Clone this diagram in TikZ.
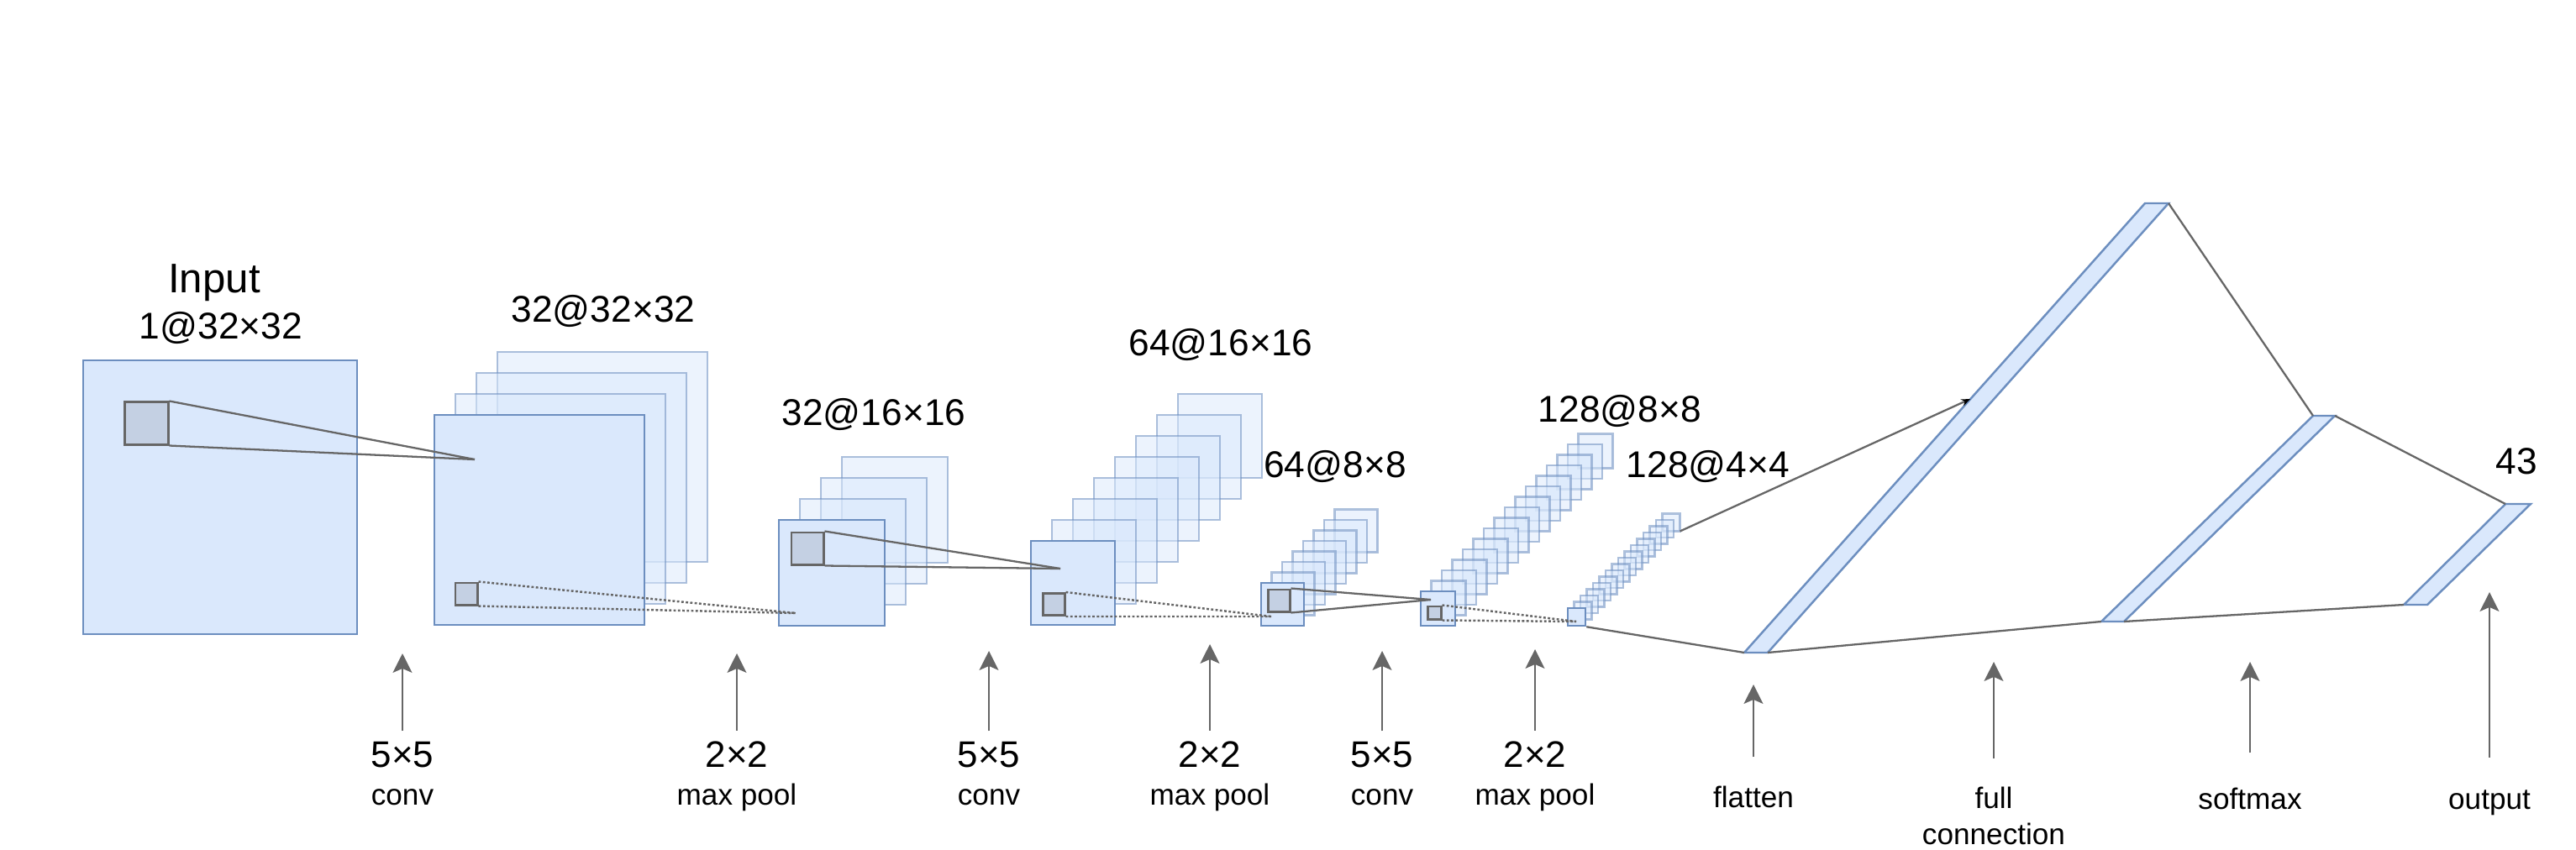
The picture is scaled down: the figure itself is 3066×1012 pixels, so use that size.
\documentclass[tikz,border=0pt]{standalone}
\usepackage{fontspec}
\setmainfont{Liberation Sans}
\usepackage{tikz}
\usetikzlibrary{arrows.meta}
\definecolor{mapfill}{RGB}{218,232,252}
\definecolor{mapline}{RGB}{108,142,191}
\definecolor{kernfill}{RGB}{196,208,227}
\definecolor{mygray}{RGB}{102,102,102}
\tikzset{
  fmap/.style={rectangle, draw=mapline, fill=mapfill, line width=0.7pt, inner sep=0pt},
  backmap/.style={draw=mapline, fill=mapfill, line width=0.7pt,
    draw opacity=0.55, fill opacity=0.5},
  kern/.style={rectangle, draw=mygray, fill=kernfill, line width=0.85pt, inner sep=0pt},
  link/.style={line width=0.65pt, color=mygray},
  dotlink/.style={line width=0.7pt, color=mygray, dash pattern=on 0.8pt off 0.7pt},
  bar/.style={draw=mapline, fill=mapfill, line width=0.7pt},
  uparrow/.style={-{Stealth[length=6.5pt, width=6.5pt, inset=1.4pt]},
    line width=0.6pt, color=mygray},
  toplab/.style={font=\fontsize{12.6}{15}\selectfont, anchor=base},
  numlab/.style={font=\fontsize{12.5}{15}\selectfont, anchor=base},
  oplab/.style={font=\fontsize{10}{12}\selectfont, anchor=base, align=center}
}

\begin{document}
\begin{tikzpicture}[x=0.01cm, y=-0.01cm]
  \useasboundingbox (0,0) rectangle (3066,1012);

  % input image
  \node[fmap, minimum size=3.26cm] (input) at (262,592) {};
  \node[kern, minimum width=0.51cm, minimum height=0.50cm] (inK) at (174.5,504) {};
  \node[font=\fontsize{14}{17}\selectfont, anchor=base] (inName) at (255,348) {Input};
  \node[toplab] (inSize) at (263,403) {1@32×32};

  % 32@32x32
  \foreach \k in {3,2,1}
    \draw[backmap] ({517+25*\k},{494-25*\k}) rectangle ++(250,250);
  \node[fmap, minimum size=2.5cm] (conv1) at (642,619) {};
  \node[kern, minimum size=0.26cm] (conv1K) at (555,707) {};
  \node[toplab] (conv1Lab) at (718,383) {32@32×32};

  % 32@16x16
  \foreach \k in {3,2,1}
    \draw[backmap] ({927+25*\k},{619-25*\k}) rectangle ++(126,126);
  \node[fmap, minimum size=1.26cm] (pool1) at (990,682) {};
  \node[kern, minimum size=0.38cm] (pool1K) at (961,653) {};
  \node[toplab] (pool1Lab) at (1040,506) {32@16×16};

  % 64@16x16
  \foreach \k in {7,6,...,1}
    \draw[backmap] ({1227+25*\k},{644-25*\k}) rectangle ++(100,100);
  \node[fmap, minimum size=1cm] (conv2) at (1277,694) {};
  \node[kern, minimum size=0.26cm] (conv2K) at (1254,719.5) {};
  \node[toplab] (conv2Lab) at (1453,423) {64@16×16};

  % 64@8x8
  \foreach \k in {7,6,...,1}
    \draw[backmap] ({1501+12.5*\k},{694-12.5*\k}) rectangle ++(51,51);
  \node[fmap, minimum size=0.51cm] (pool2) at (1526.5,719.5) {};
  \node[kern, minimum size=0.26cm] (pool2K) at (1522,715) {};
  \node[toplab] (pool2Lab) at (1589,568) {64@8×8};

  % 128@8x8
  \foreach \k in {15,14,...,1}
    \draw[backmap] ({1691+12.5*\k},{704-12.5*\k}) rectangle ++(41,41);
  \node[fmap, minimum size=0.41cm] (conv3) at (1711.5,724.5) {};
  \node[kern, minimum width=0.16cm, minimum height=0.15cm] (conv3K) at (1707,729.5) {};
  \node[toplab] (conv3Lab) at (1928,502) {128@8×8};

  % 128@4x4
  \foreach \k in {15,14,...,1}
    \draw[backmap] ({1866+7.5*\k},{724-7.5*\k}) rectangle ++(21,21);
  \node[fmap, minimum size=0.21cm] (pool3) at (1876.5,734.5) {};
  \coordinate (pool3Top) at (1999.5,632.5);
  \node[toplab] (pool3Lab) at (2033,568) {128@4×4};

  % dense layers
  \coordinate (flatBL) at (2076,777);
  \coordinate (flatBR) at (2104,777);
  \coordinate (flatTR) at (2581,242);
  \coordinate (flatTL) at (2553,242);
  \coordinate (flatIn) at (2345,475);
  \coordinate (fcBL) at (2501,740);
  \coordinate (fcBR) at (2528,740);
  \coordinate (fcTR) at (2779,495);
  \coordinate (fcTL) at (2753,495);
  \coordinate (outBL) at (2861,720);
  \coordinate (outBR) at (2889,720);
  \coordinate (outTR) at (3012,600);
  \coordinate (outTL) at (2982,600);
  \draw[bar] (flatBL) -- (flatBR) -- (flatTR) -- (flatTL) -- cycle;
  \draw[bar] (fcBL) -- (fcBR) -- (fcTR) -- (fcTL) -- cycle;
  \draw[bar] (outBL) -- (outBR) -- (outTR) -- (outTL) -- cycle;
  \node[toplab] (outLab) at (2995,564) {43};

  % receptive fields
  \coordinate (tip1) at (565,547);
  \coordinate (tip2) at (947,730);
  \coordinate (tip3) at (1262,677);
  \coordinate (tip4) at (1513,734);
  \coordinate (tip5) at (1703,714);
  \coordinate (tip6) at (1876,740);
  \draw[link] (inK.north east) -- (tip1);
  \draw[link] (inK.south east) -- (tip1);
  \draw[dotlink] (conv1K.north east) -- (tip2);
  \draw[dotlink] (conv1K.south east) -- (tip2);
  \draw[link] (pool1K.north east) -- (tip3);
  \draw[link] (pool1K.south east) -- (tip3);
  \draw[dotlink] (conv2K.north east) -- (tip4);
  \draw[dotlink] (conv2K.south east) -- (tip4);
  \draw[link] (pool2K.north east) -- (tip5);
  \draw[link] (pool2K.south east) -- (tip5);
  \draw[dotlink] (conv3K.north east) -- (tip6);
  \draw[dotlink] (conv3K.south east) -- (tip6);

  % dense connections
  \draw[link] (pool3.south east) -- (flatBL);
  \draw[link, -{Stealth[length=3pt, width=2.4pt, color=black]}] (pool3Top) -- (flatIn);
  \draw[link] (flatTR) -- (fcTL);
  \draw[link] (flatBR) -- (fcBL);
  \draw[link] (fcTR) -- (outTL);
  \draw[link] (fcBR) -- (outBL);

  % operations
  \foreach \x/\ty/\num/\op [count=\i] in {479/778/5×5/conv, 877/778/2×2/max pool,
      1177/775/5×5/conv, 1440/767/2×2/max pool, 1645/775/5×5/conv, 1827/773/2×2/max pool} {
    \node[numlab] (num\i) at (\x,913) {\num};
    \node[oplab] (op\i) at (\x,958) {\op};
    \coordinate (opTip\i) at (\x,\ty);
    \draw[uparrow] (num\i.north) -- (opTip\i);
  }

  \node[oplab] (flat) at (2087,961) {flatten};
  \node[oplab] (full) at (2373,1005) {full\\connection};
  \node[oplab] (soft) at (2678,963) {softmax};
  \node[oplab] (outp) at (2963,963) {output};
  \coordinate (flatTip) at (2087,815);
  \coordinate (fullTip) at (2373,788);
  \coordinate (softTip) at (2678,788);
  \coordinate (outpTip) at (2963,705);
  \draw[uparrow] ([yshift=6.2pt]flat.north) -- (flatTip);
  \draw[uparrow] ([yshift=6.2pt]full.north) -- (fullTip);
  \draw[uparrow] ([yshift=8.2pt]soft.north) -- (softTip);
  \draw[uparrow] ([yshift=7.4pt]outp.north) -- (outpTip);
\end{tikzpicture}
\end{document}
